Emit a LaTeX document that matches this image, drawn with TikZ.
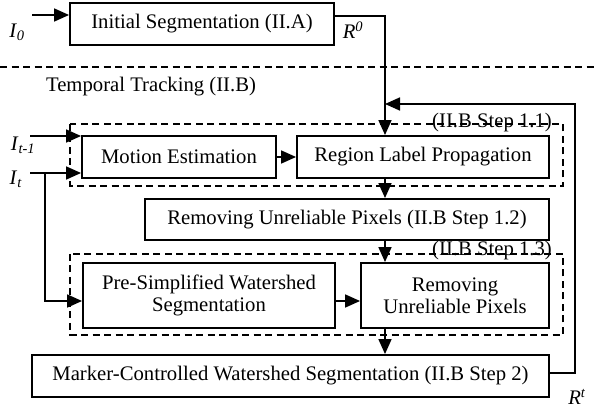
\documentclass[tikz,border=0pt]{standalone}
\usepackage{fontspec}
\setmainfont{Liberation Serif}
\usetikzlibrary{arrows.meta}
\newcommand{\fs}{\fontsize{20.7}{22}\selectfont}
\begin{document}
\begin{tikzpicture}[x=1pt,y=-1pt,
  box/.style={draw, line width=1.9pt, inner sep=0pt, align=center, font=\fs},
  grp/.style={draw, line width=1.5pt, dash pattern=on 7pt off 4.5pt},
  arr/.style={line width=1.7pt, -{Triangle[length=15pt,width=13pt]}},
  lbl/.style={font=\fs, inner sep=0pt}]
\useasboundingbox (0,0) rectangle (594,411);
% boxes
\node[box, minimum width=264pt, minimum height=42pt] (init) at (202,24) {Initial Segmentation (II.A)};
\node[box, minimum width=194pt, minimum height=42pt] (motion) at (179,157) {Motion Estimation};
\node[box, minimum width=252pt, minimum height=42pt] (region) at (423,157) {Region Label Propagation};
\node[box, minimum width=404pt, minimum height=41pt] (rem1) at (347,219.5) {Removing Unreliable Pixels (II.B Step 1.2)};
\node[box, minimum width=252pt, minimum height=65pt] (pre) at (209,295.5) {Pre-Simplified Watershed\\Segmentation};
\node[box, minimum width=188pt, minimum height=65pt] (rem2) at (455,295.5) {Removing\\Unreliable Pixels};
\node[box, minimum width=517pt, minimum height=42pt] (marker) at (290.5,376) {Marker-Controlled Watershed Segmentation (II.B Step 2)};
% separator and group frames
\coordinate (sepL) at (0,67);
\coordinate (sepR) at (594,67);
\draw[grp] (sepL) -- (sepR);
\node[lbl] (tt) at (151,87) {Temporal Tracking (II.B)};
\draw[grp] (70,124) rectangle (563,186);
\draw[grp] (70,254) rectangle (563,335);
\node[lbl] (s11) at (492,123) {(II.B Step 1.1)};
\node[lbl] (s13) at (492,251) {(II.B Step 1.3)};
% labels
\node[lbl] (I0) at (17,32) {\textit{I}\textsubscript{\textit{0}}};
\node[lbl] (It1) at (23,145) {\textit{I}\textsubscript{\textit{t-1}}};
\node[lbl] (It) at (16,179) {\textit{I}\textsubscript{\textit{t}}};
\node[lbl] (R0) at (353,30) {\textit{R}\textsuperscript{\textit{0}}};
\node[lbl] (Rt) at (577,397) {\textit{R}\textsuperscript{\textit{t}}};
% coordinates
\coordinate (i0s) at (32,15);
\coordinate (it1s) at (30,136);
\coordinate (its) at (30,173);
\coordinate (br) at (45,173);
\coordinate (spine) at (385,0);
\coordinate (r0a) at (334,16);
\coordinate (fbA) at (549,373);
\coordinate (fbB) at (575,104);
% connectors
\draw[arr] (i0s) -- (i0s -| init.west);
\draw[arr] (r0a) -| (spine |- region.north);
\draw[arr] (fbA) -| (fbB) -- (spine |- fbB);
\draw[arr] (it1s) -- (it1s -| motion.west);
\draw[arr] (its) -- (its -| motion.west);
\draw[arr] (br) |- (pre.west |- 0,301);
\draw[arr] (motion.east) -- (region.west);
\draw[arr] (pre.east |- 0,301) -- (rem2.west |- 0,301);
\draw[arr] (spine |- region.south) -- (spine |- rem1.north);
\draw[arr] (spine |- rem1.south) -- (spine |- rem2.north);
\draw[arr] (spine |- rem2.south) -- (spine |- marker.north);
\end{tikzpicture}
\end{document}
